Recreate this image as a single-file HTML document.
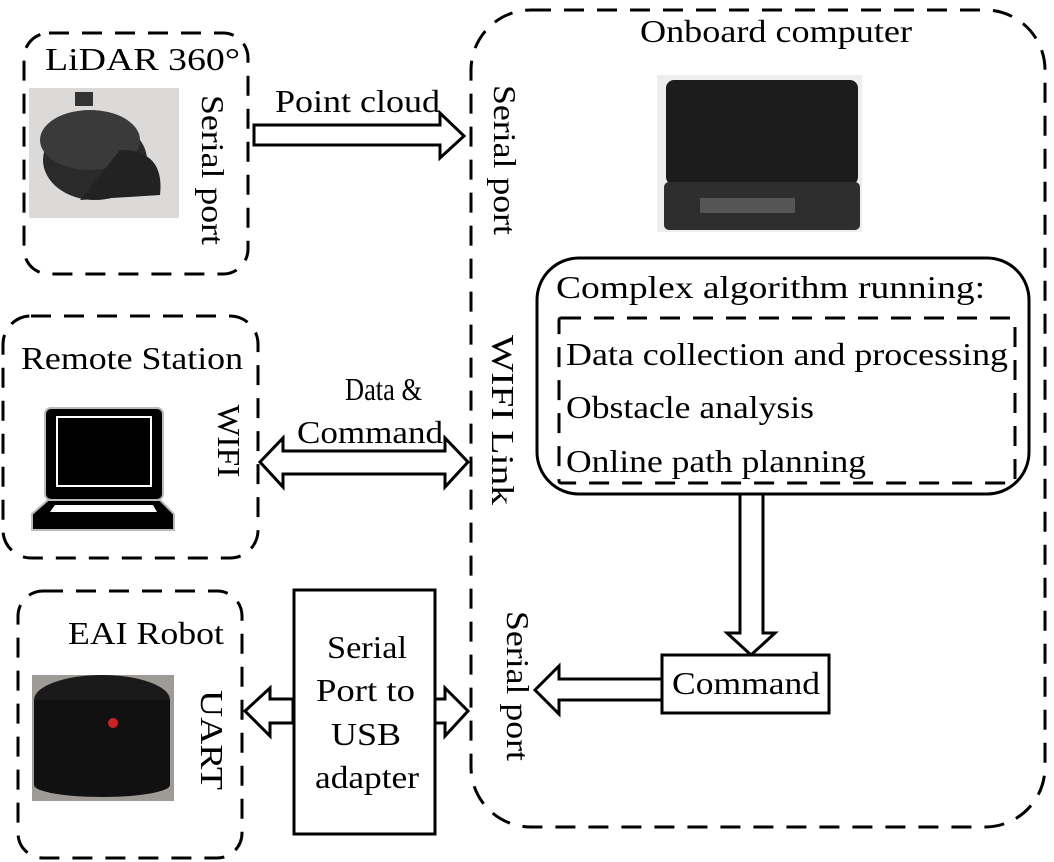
<!DOCTYPE html>
<html><head><meta charset="utf-8"><style>
html,body{margin:0;padding:0;background:#fff;width:1054px;height:862px;overflow:hidden}
</style></head><body>
<svg width="1054" height="862" xmlns="http://www.w3.org/2000/svg" font-family="'Liberation Serif','DejaVu Serif','Times New Roman',serif" font-size="32">
<g fill="none" stroke="#000" stroke-width="3" stroke-dasharray="20,13">
<rect x="24" y="33" width="224" height="241" rx="25"/>
<rect x="3" y="316" width="255" height="242" rx="28"/>
<rect x="18" y="591" width="224" height="267" rx="25"/>
<rect x="471" y="10" width="574" height="817" rx="60"/>
<rect x="559" y="318" width="456" height="165" rx="2"/>
</g>
<rect x="537" y="258" width="492" height="236" rx="42" fill="none" stroke="#000" stroke-width="3"/>
<rect x="29" y="88" width="150" height="130" fill="#dcdad8"/>
<ellipse cx="95" cy="160" rx="52" ry="40" fill="#2a2a2a"/>
<ellipse cx="90" cy="140" rx="50" ry="30" fill="#3a3a3a"/>
<path d="M120,150 Q165,150 160,195 L80,200 Z" fill="#222"/>
<rect x="75" y="92" width="18" height="14" fill="#333"/>
<rect x="657" y="75" width="205" height="157" fill="#f0eeec"/>
<rect x="666" y="80" width="192" height="105" rx="8" fill="#1c1c1c"/>
<rect x="664" y="182" width="196" height="48" rx="5" fill="#2e2e2e"/>
<rect x="700" y="198" width="95" height="15" fill="#555"/>
<rect x="32" y="675" width="142" height="126" fill="#9e9a96"/>
<ellipse cx="102" cy="700" rx="68" ry="25" fill="#1a1a1a"/>
<rect x="34" y="700" width="136" height="85" fill="#111"/>
<ellipse cx="102" cy="785" rx="68" ry="12" fill="#111"/>
<circle cx="113" cy="723" r="5" fill="#c22"/>
<rect x="45" y="408" width="118" height="92" rx="6" fill="#000" stroke="#bbb" stroke-width="2"/>
<rect x="56" y="416" width="96" height="71" fill="#fff"/>
<rect x="58" y="418" width="92" height="67" fill="#000"/>
<path d="M48,500 L160,500 L174,514 L174,530 L32,530 L32,514 Z" fill="#000" stroke="#bbb" stroke-width="2"/>
<path d="M55,505 L153,505 L157,512 L50,512 Z" fill="#fff"/>
<g fill="#fff" stroke="#000" stroke-width="3" stroke-linejoin="miter">
<path d="M254,125 L440,125 L440,113 L464,136 L440,158 L440,145 L254,145 Z"/>
<path d="M260,462 L283,438 L283,451 L445,451 L445,438 L468,462 L445,487 L445,474 L283,474 L283,487 Z"/>
<path d="M293,699 L270,699 L270,688 L245,711 L270,736 L270,723 L293,723 Z"/>
<path d="M435,699 L445,699 L445,688 L468,711 L445,736 L445,723 L435,723 Z"/>
<path d="M740,494 L763,494 L763,633 L775,633 L751,655 L727,633 L740,633 Z"/>
<path d="M662,679 L559,679 L559,666 L535,690 L559,714 L559,700 L662,700 Z"/>
</g>
<rect x="294" y="590" width="141" height="244" fill="none" stroke="#000" stroke-width="3"/>
<rect x="662" y="655" width="167" height="58" fill="#fff" stroke="#000" stroke-width="3"/>
<g lengthAdjust="spacingAndGlyphs">
<text x="45" y="70" textLength="195" lengthAdjust="spacingAndGlyphs">LiDAR  360°</text>
<text x="275" y="112" textLength="165" lengthAdjust="spacingAndGlyphs">Point cloud</text>
<text x="21" y="369" textLength="222" lengthAdjust="spacingAndGlyphs">Remote Station</text>
<text x="345" y="400" textLength="77" lengthAdjust="spacingAndGlyphs">Data &amp;</text>
<text x="297" y="443" textLength="146" lengthAdjust="spacingAndGlyphs">Command</text>
<text x="68" y="644" textLength="156" lengthAdjust="spacingAndGlyphs">EAI Robot</text>
<text x="327" y="658" textLength="80" lengthAdjust="spacingAndGlyphs">Serial</text>
<text x="316" y="701" textLength="99" lengthAdjust="spacingAndGlyphs">Port to</text>
<text x="331" y="745" textLength="70" lengthAdjust="spacingAndGlyphs">USB</text>
<text x="315" y="788" textLength="104" lengthAdjust="spacingAndGlyphs">adapter</text>
<text x="640" y="42" textLength="272" lengthAdjust="spacingAndGlyphs">Onboard computer</text>
<text x="556" y="298" textLength="429" lengthAdjust="spacingAndGlyphs">Complex algorithm running:</text>
<text x="566" y="365" textLength="442" lengthAdjust="spacingAndGlyphs">Data collection and processing</text>
<text x="566" y="418" textLength="248" lengthAdjust="spacingAndGlyphs">Obstacle analysis</text>
<text x="566" y="472" textLength="300" lengthAdjust="spacingAndGlyphs">Online path planning</text>
<text x="672" y="694" textLength="148" lengthAdjust="spacingAndGlyphs">Command</text>
<text transform="translate(202,170) rotate(90)" text-anchor="middle" textLength="150" lengthAdjust="spacingAndGlyphs">Serial port</text>
<text transform="translate(494,160) rotate(90)" text-anchor="middle" textLength="150" lengthAdjust="spacingAndGlyphs">Serial port</text>
<text transform="translate(218,441) rotate(90)" text-anchor="middle" textLength="73" lengthAdjust="spacingAndGlyphs">WIFI</text>
<text transform="translate(492,420) rotate(90)" text-anchor="middle" textLength="170" lengthAdjust="spacingAndGlyphs">WIFI  Link</text>
<text transform="translate(201,740) rotate(90)" text-anchor="middle" textLength="100" lengthAdjust="spacingAndGlyphs">UART</text>
<text transform="translate(507,686) rotate(90)" text-anchor="middle" textLength="150" lengthAdjust="spacingAndGlyphs">Serial port</text>
</g>
</svg>
</body></html>
